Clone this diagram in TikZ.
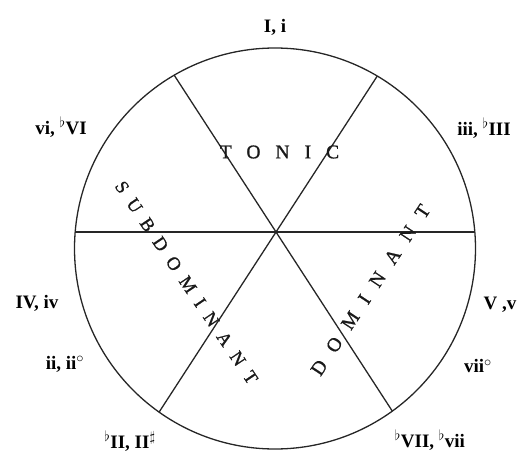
\documentclass[tikz,border=0pt]{standalone}
\usepackage{fontspec}
\setmainfont{Liberation Serif}
\newfontfamily\tonicfont[LetterSpace=77, FakeBold=1]{Liberation Serif}
\newfontfamily\subfont[LetterSpace=56, FakeBold=1]{Liberation Serif}
\newfontfamily\domfont[LetterSpace=69, FakeBold=1]{Liberation Serif}
\begin{document}
\begin{tikzpicture}[x=1pt,y=-1pt,
  ring/.style={line width=1.3pt, draw=black!85},
  lbl/.style={font=\fontsize{19}{19}\selectfont\bfseries, inner sep=0pt},
  func/.style={inner sep=0pt, text=black!90}]
\useasboundingbox (0,0) rectangle (520,455);
\coordinate (C) at (275,248.5);
\coordinate (P) at (276,232);
\coordinate (L) at (74.8,232);
\coordinate (R) at (475.2,232);
\coordinate (UR) at (377.3,76);
\coordinate (LL) at (159.1,412.1);
\coordinate (UL) at (174.2,75.2);
\coordinate (LR) at (392.3,411.1);
\draw[ring] (C) circle[radius=200.5pt];
\draw[ring] (L) -- (R);
\draw[ring] (UL) -- (LR);
\draw[ring] (UR) -- (LL);
% function labels
\node[func, font=\tonicfont\fontsize{19.5}{19.5}\selectfont] (tonic) at (279.5,152) {TONIC};
\node[func, rotate=-56, font=\subfont\fontsize{18.5}{18.5}\selectfont] (sub) at (186.5,282.5) {SUBDOMINANT};
\node[func, rotate=56.5, font=\domfont\fontsize{19.5}{19.5}\selectfont] (dom) at (370.5,290) {DOMINANT};
% chord labels
\node[lbl] (c1) at (275,27) {I, i};
\node[lbl] (c6) at (61,127) {vi, $^\flat$VI};
\node[lbl] (c3) at (484,128) {iii, $^\flat$III};
\node[lbl] (c4) at (37,303) {IV, iv};
\node[lbl] (c2) at (65,364) {ii, ii$^\circ$};
\node[lbl] (c5) at (500,305) {V ,v};
\node[lbl] (c7) at (478,366) {vii$^\circ$};
\node[lbl] (c2b) at (130,441) {$^\flat$II, II$^\sharp$};
\node[lbl] (c7b) at (430,440) {$^\flat$VII, $^\flat$vii};
\end{tikzpicture}
\end{document}
